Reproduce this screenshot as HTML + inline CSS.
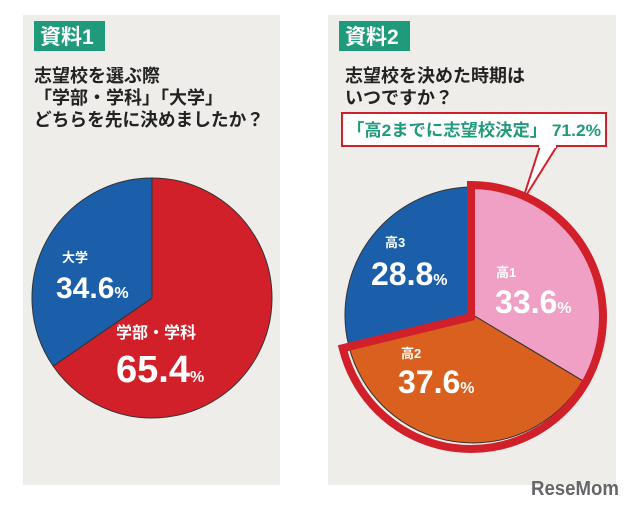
<!DOCTYPE html>
<html><head><meta charset="utf-8"><style>
body{margin:0;width:640px;height:508px;background:#fff;overflow:hidden;font-family:"Liberation Sans","Noto Sans CJK JP",sans-serif}
svg{position:absolute;left:0;top:0}
</style></head><body>
<svg width="640" height="508" viewBox="0 0 640 508">
<rect x="23" y="15" width="257" height="470" fill="#efedea"/>
<rect x="328" y="15" width="288" height="470" fill="#efedea"/>
<rect x="34" y="21" width="71" height="30" fill="#1f9a7a"/>
<text x="40" y="44" font-size="21" font-weight="bold" fill="#fff">資料1</text>
<rect x="339" y="21" width="71" height="30" fill="#1f9a7a"/>
<text x="345" y="44" font-size="21" font-weight="bold" fill="#fff">資料2</text>
<g font-size="18" font-weight="bold" fill="#222">
<text x="34" y="82">志望校を選ぶ際</text><text x="34" y="104">「学部・学科」「大学」</text><text x="34" y="126" textLength="230" lengthAdjust="spacingAndGlyphs">どちらを先に決めましたか？</text></g>
<g font-size="18" font-weight="bold" fill="#222">
<text x="345" y="82">志望校を決めた時期は</text><text x="345" y="104">いつですか？</text></g>
<path d="M540 146 L522 202 L557 146" fill="#fff" stroke="#d2202a" stroke-width="2"/>
<rect x="342" y="113" width="264" height="33" fill="#fff" stroke="#d2202a" stroke-width="2"/>
<rect x="539" y="144" width="17" height="4" fill="#fff"/>
<text x="347" y="136" font-size="17" font-weight="bold" fill="#1f9a7a" textLength="254" lengthAdjust="spacingAndGlyphs">「高2までに志望校決定」 71.2%</text>
<g id="pies"></g>
<text x="531" y="495" font-size="20" font-weight="bold" fill="#666" textLength="88" lengthAdjust="spacingAndGlyphs">ReseMom</text>
</svg>
<script>
const cats1=["学部・学科","大学"];
const vals1=[65.4,34.6];
const cols1=["#d2202a","#1b5faa"];
const cats2=["高1","高2","高3"];
const vals2=[33.6,37.6,28.8];
const cols2=["#efa0c4","#d9601f","#1b5faa"];
const NS="http://www.w3.org/2000/svg";
const g=document.getElementById('pies');
function pt(cx,cy,r,a){const t=(a-90)*Math.PI/180;return [cx+r*Math.cos(t),cy+r*Math.sin(t)];}
function arc(cx,cy,r,a0,a1){const p0=pt(cx,cy,r,a0),p1=pt(cx,cy,r,a1);const l=(a1-a0)>180?1:0;
return `M${cx} ${cy}L${p0[0]} ${p0[1]}A${r} ${r} 0 ${l} 1 ${p1[0]} ${p1[1]}Z`;}
function pie(cx,cy,r,vals,cols,name,stroke){let a=0;const tot=vals.reduce((s,v)=>s+v,0);const angs=[];
vals.forEach((v,i)=>{const a1=a+v/tot*360;const p=document.createElementNS(NS,'path');
p.setAttribute('d',arc(cx,cy,r,a,a1));p.setAttribute('fill',cols[i]);p.setAttribute('stroke',stroke);p.setAttribute('stroke-width','1');


g.appendChild(p);angs.push([a,a1]);a=a1;});return angs;}
pie(152,298,120,vals1,cols1,'pie-1','#333');
const angs=pie(473,315,128,vals2,cols2,'pie-2','#333');
const o=document.createElementNS(NS,'path');
o.setAttribute('d',arc(471,317,132,angs[0][0],angs[1][1]));
o.setAttribute('fill','none');o.setAttribute('stroke','#d2202a');o.setAttribute('stroke-width','8');o.setAttribute('stroke-linejoin','miter');


g.appendChild(o);
function txt(x,y,s,size,name){const t=document.createElementNS(NS,'text');t.setAttribute('x',x);t.setAttribute('y',y);
t.setAttribute('font-size',size);t.setAttribute('font-weight','bold');t.setAttribute('fill','#fff');t.innerHTML=s;


g.appendChild(t);}
const pc='<tspan font-size="16">%</tspan>';
txt(62,262,cats1[1],13,'label-daigaku');
txt(56,298,vals1[1].toFixed(1)+pc,30,'value-daigaku');
txt(116,338,cats1[0],16,'label-gakubu');
txt(116,382,vals1[0].toFixed(1)+pc,38,'value-gakubu');
txt(385,247,cats2[2],13,'label-ko3');
txt(371,285,vals2[2].toFixed(1)+pc,32,'value-ko3');
txt(496,277,cats2[0],13,'label-ko1');
txt(495,313,vals2[0].toFixed(1)+pc,32,'value-ko1');
txt(401,358,cats2[1],13,'label-ko2');
txt(398,393,vals2[1].toFixed(1)+pc,32,'value-ko2');
</script>
</body></html>
